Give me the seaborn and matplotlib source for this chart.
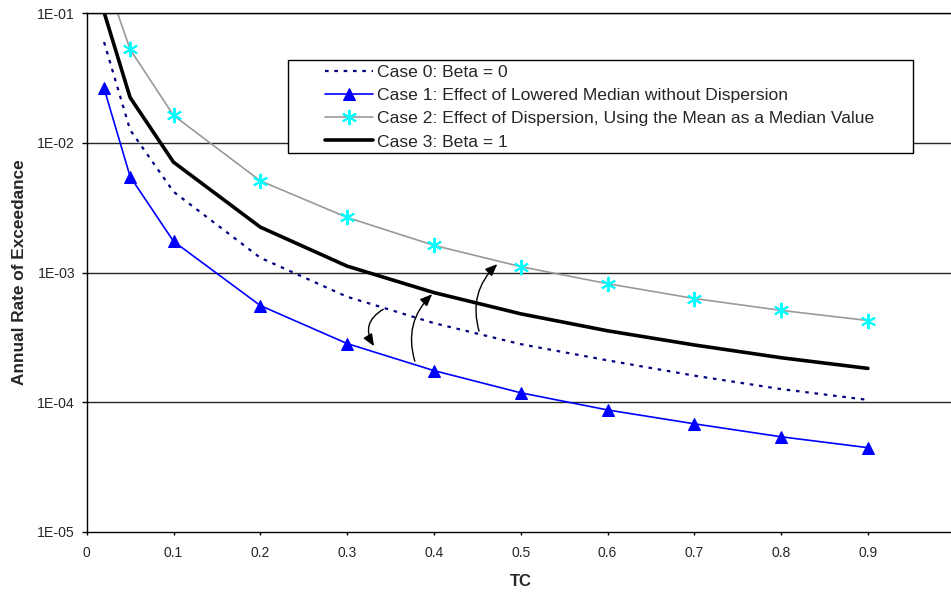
import matplotlib
matplotlib.use("Agg")
import matplotlib.pyplot as plt
from matplotlib.legend_handler import HandlerLine2D
from matplotlib.lines import Line2D
from matplotlib.patches import Rectangle
import seaborn as sns
import pandas as pd

# ---- data ----
tc = [0.02, 0.05, 0.1, 0.2, 0.3, 0.4, 0.5, 0.6, 0.7, 0.8, 0.9]
case0 = [0.060, 0.0126, 0.0042, 1.30e-3, 6.5e-4, 4.07e-4, 2.80e-4, 2.10e-4, 1.60e-4, 1.26e-4, 1.04e-4]
case1 = [0.0264, 0.0055, 0.00174, 5.56e-4, 2.83e-4, 1.75e-4, 1.18e-4, 8.7e-5, 6.8e-5, 5.4e-5, 4.45e-5]
case2 = [0.20, 0.0527, 0.0163, 5.1e-3, 2.66e-3, 1.62e-3, 1.11e-3, 8.2e-4, 6.3e-4, 5.1e-4, 4.26e-4]
case3 = [0.102, 0.0224, 0.0071, 2.24e-3, 1.12e-3, 7.0e-4, 4.8e-4, 3.55e-4, 2.76e-4, 2.2e-4, 1.82e-4]

labels = [
    "Case 0: Beta = 0",
    "Case 1: Effect of Lowered Median without Dispersion",
    "Case 2: Effect of Dispersion, Using the Mean as a Median Value",
    "Case 3: Beta = 1",
]
x_ticks = [0, 0.1, 0.2, 0.3, 0.4, 0.5, 0.6, 0.7, 0.8, 0.9]
x_tick_labels = ["0", "0.1", "0.2", "0.3", "0.4", "0.5", "0.6", "0.7", "0.8", "0.9"]
y_ticks = [1e-5, 1e-4, 1e-3, 1e-2, 1e-1]
y_tick_labels = ["1E-05", "1E-04", "1E-03", "1E-02", "1E-01"]

# arrows: (start x, start y) -> (end x, end y), curvature
arrow_starts = [(0.3416, 5.2e-4), (0.378, 2.07e-4), (0.452, 3.53e-4)]
arrow_ends = [(0.331, 2.7e-4), (0.398, 6.8e-4), (0.473, 1.16e-3)]
arrow_rads = [0.5, -0.3, -0.3]

sns.set_theme(style="white")
plt.rcParams["font.family"] = ["Liberation Sans", "DejaVu Sans"]

W, H = 951, 592
fig = plt.figure(figsize=(W / 100, H / 100), dpi=100)
ax_l, ax_r, ax_t, ax_b = 86.7, 954.7, 13.3, 531.7
ax = fig.add_axes([ax_l / W, 1 - ax_b / H, (ax_r - ax_l) / W, (ax_b - ax_t) / H])

df = pd.DataFrame({"TC": tc, "c0": case0, "c1": case1, "c2": case2, "c3": case3})

sns.lineplot(data=df, x="TC", y="c0", ax=ax, color="#000080", lw=1.6,
             linestyle=(0, (1.6, 2.6)), label=labels[0])
sns.lineplot(data=df, x="TC", y="c1", ax=ax, color="#0000FF", lw=1.2,
             marker="^", markersize=9, markeredgecolor="#0000FF",
             markerfacecolor="#0000FF", label=labels[1])
sns.lineplot(data=df, x="TC", y="c2", ax=ax, color="#999999", lw=1.2,
             marker=(6, 2, 0), markersize=11, markeredgecolor="#00FFFF",
             markerfacecolor="#00FFFF", markeredgewidth=1.4, label=labels[2])
sns.lineplot(data=df, x="TC", y="c3", ax=ax, color="black", lw=2.6, label=labels[3])

ax.set_yscale("log")
ax.set_xlim(0, 1.0)
ax.set_ylim(1e-5, 1e-1)
ax.set_xticks(x_ticks)
ax.set_xticklabels(x_tick_labels, fontsize=10)
ax.set_yticks(y_ticks)
ax.set_yticklabels(y_tick_labels, fontsize=10.2)
ax.minorticks_off()
ax.yaxis.set_minor_locator(matplotlib.ticker.NullLocator())
ax.tick_params(axis="x", which="major", direction="out", length=2.5, width=1,
               color="black", bottom=True, pad=8)
ax.tick_params(axis="y", which="major", direction="out", length=3.6, width=1,
               color="black", left=True, pad=4.8)

for yv in y_ticks[1:]:
    ax.axhline(yv, color="#262626", lw=1.0, zorder=0.5)

ax.spines["right"].set_visible(False)
for side in ["left", "bottom", "top"]:
    ax.spines[side].set_color("black")
    ax.spines[side].set_linewidth(1.0)

ax.set_xlabel("TC", fontsize=12, fontweight="bold", labelpad=10)
ax.set_ylabel("Annual Rate of Exceedance", fontsize=12.4, fontweight="bold", labelpad=7)

for (sx, sy), (ex, ey), rad in zip(arrow_starts, arrow_ends, arrow_rads):
    ax.annotate("", xy=(ex, ey), xytext=(sx, sy), xycoords="data",
                arrowprops=dict(arrowstyle="-|>,head_length=0.6,head_width=0.25",
                                color="black", lw=1.0, mutation_scale=12,
                                connectionstyle=f"arc3,rad={rad}",
                                shrinkA=0, shrinkB=0))


class ShiftedHandler(HandlerLine2D):
    """Leaves blank space on the left of the legend sample line."""
    def __init__(self, shift, **kw):
        super().__init__(**kw)
        self.shift = shift

    def create_artists(self, legend, orig_handle, xdescent, ydescent, width,
                       height, fontsize, trans):
        s = self.shift * fontsize
        return super().create_artists(legend, orig_handle, xdescent - s, ydescent,
                                      width - s, height, fontsize, trans)


# legend box (frame drawn as a rectangle to get the wide right margin)
box_left, box_top, box_right, box_bottom = 288, 60, 913, 153
frame = Rectangle((box_left / W, 1 - box_bottom / H),
                  (box_right - box_left) / W, (box_bottom - box_top) / H,
                  transform=fig.transFigure, facecolor="white", edgecolor="black",
                  lw=1.0, zorder=4.5, clip_on=False)
ax.add_patch(frame)

leg_fs = 12.6
fs_px = leg_fs * 100 / 72
handles, hlabels = ax.get_legend_handles_labels()
bpad = 0.25
shift = (325 - box_left - bpad * fs_px) / fs_px
hlen = (373 - box_left - bpad * fs_px) / fs_px
leg = ax.legend(handles, hlabels,
                loc="upper left",
                bbox_to_anchor=((box_left - ax_l) / (ax_r - ax_l), (ax_b - box_top) / (ax_b - ax_t)),
                borderaxespad=0, fontsize=leg_fs, frameon=False,
                handlelength=hlen, handletextpad=4 / fs_px, labelspacing=0.46,
                borderpad=bpad,
                handler_map={Line2D: ShiftedHandler(shift)})
leg.set_zorder(5)

fig.savefig("out.png", dpi=100)
